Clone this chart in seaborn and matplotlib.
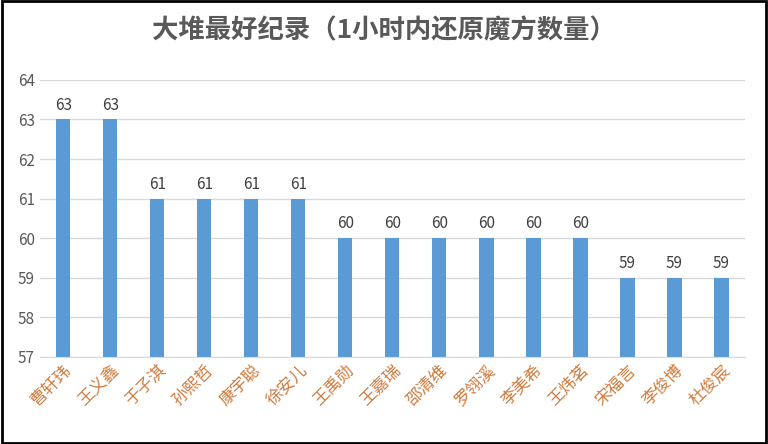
import matplotlib.pyplot as plt
import seaborn as sns
import pandas as pd

names = ["曹轩玮", "王义鑫", "于子淇", "孙熙哲", "康宇聪", "徐安儿", "王禹勋", "王嘉瑞",
         "邵清维", "罗翎溪", "李美希", "王炜茗", "宋福言", "李俊博", "杜俊宸"]
scores = [63, 63, 61, 61, 61, 61, 60, 60, 60, 60, 60, 60, 59, 59, 59]
yticks = [57, 58, 59, 60, 61, 62, 63, 64]

plt.rcParams["font.family"] = "Noto Sans CJK SC"
df = pd.DataFrame({"name": names, "score": scores})

fig = plt.figure(figsize=(7.68, 4.44), dpi=100)
ax = fig.add_axes([0.052, 0.196, 0.918, 0.624])
sns.barplot(data=df, x="name", y="score", color="#5b9bd5", width=0.3, saturation=1, ax=ax)
ax.set_ylim(57, 64)
ax.set_yticks(yticks)
ax.yaxis.grid(True, color="#d9d9d9", linewidth=1)
ax.set_axisbelow(True)
for s in ["top", "right", "left"]:
    ax.spines[s].set_visible(False)
ax.spines["bottom"].set_color("#d9d9d9")
ax.tick_params(axis="both", length=0, labelsize=11, colors="#595959")
ax.set_xticks(range(len(names)))
ax.set_xticklabels(names, rotation=45, ha="right", rotation_mode="anchor",
                   color="#d07a3c", fontsize=12, fontweight="light")
ax.set_xlabel("")
ax.set_ylabel("")
for i, v in enumerate(scores):
    ax.text(i, v + 0.15, str(v), ha="center", va="bottom", fontsize=11, color="#404040")

fig.text(0.5, 0.93, "大堆最好纪录（1小时内还原魔方数量）", ha="center", va="center",
         fontsize=19, fontweight="bold", color="#595959")
fig.patches.append(plt.Rectangle((0.002, 0.003), 0.995, 0.994, transform=fig.transFigure,
                                 fill=False, edgecolor="black", linewidth=2))
fig.savefig("out.png", dpi=100)
